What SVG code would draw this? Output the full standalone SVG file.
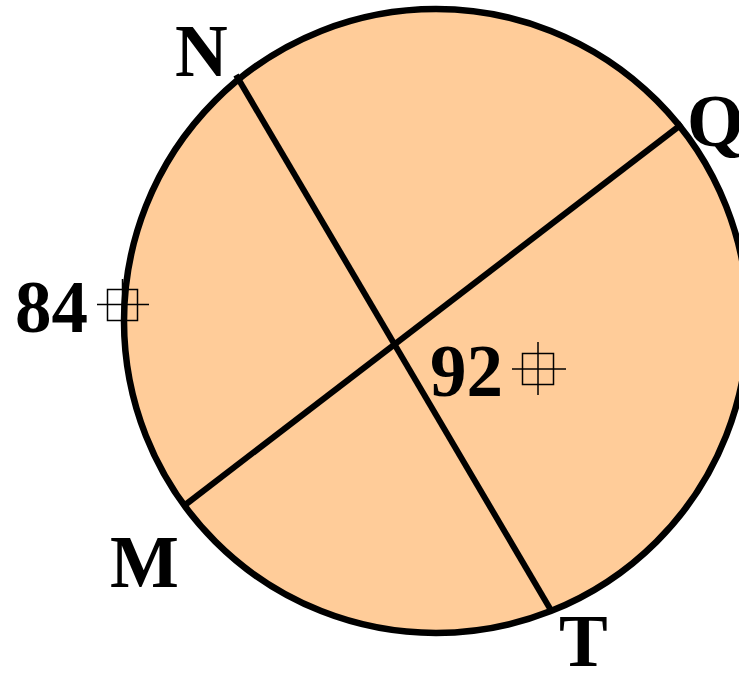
<svg xmlns="http://www.w3.org/2000/svg" width="739" height="673" viewBox="0 0 739 673">
<style>
.lbl{font-family:"Liberation Serif","Times New Roman",serif;font-weight:bold;font-size:73px;fill:#000}
.chord{stroke:#000;stroke-width:6;fill:none}
.mark{stroke:#000;stroke-width:1.5;fill:none}
</style>
<rect width="739" height="673" fill="#fff"/>
<g id="circle">
<circle cx="436" cy="321" r="312" fill="#FFCC99" stroke="#000" stroke-width="6.5"/>
</g>
<g id="connectors">
<line class="chord" x1="236" y1="75" x2="552" y2="612"/>
<line class="chord" x1="682" y1="124" x2="185" y2="505"/>
</g>
<g id="N"><text class="lbl" x="175" y="76">N</text></g>
<g id="Q"><text class="lbl" x="687" y="146">Q</text></g>
<g id="M"><text class="lbl" x="110" y="587">M</text></g>
<g id="T"><text class="lbl" x="559" y="666">T</text></g>
<g id="angle84">
<text class="lbl" x="15" y="332">84</text>
<rect class="mark" x="107.5" y="289.5" width="30" height="31"/>
<line class="mark" x1="97" y1="304.5" x2="149" y2="304.5"/>
<line class="mark" x1="122.5" y1="279" x2="122.5" y2="331"/>
</g>
<g id="angle92">
<text class="lbl" x="430" y="396">92</text>
<rect class="mark" x="522.5" y="353.5" width="31" height="31"/>
<line class="mark" x1="512" y1="369" x2="566" y2="369"/>
<line class="mark" x1="538" y1="342" x2="538" y2="395"/>
</g>
</svg>
